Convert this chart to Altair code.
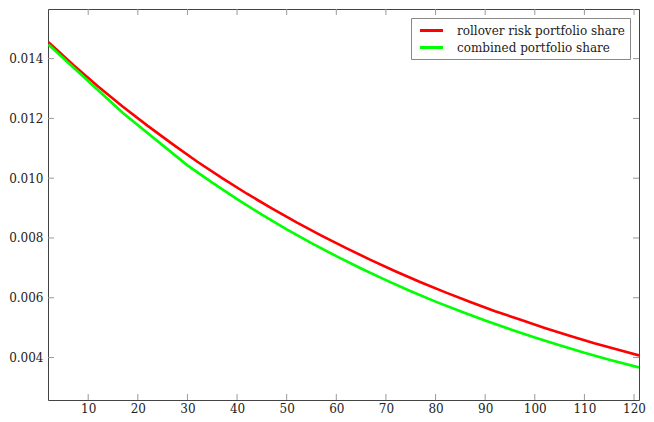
import altair as alt
import pandas as pd

# Series
red_label = "rollover risk portfolio share"
green_label = "combined portfolio share"

red_x = [2, 7, 12, 17, 22, 27, 32, 37, 42, 47, 52, 57, 62, 67, 72, 77, 82, 87, 92, 97, 102, 107, 112, 117, 121]
red_y = [0.01455, 0.01379, 0.01307, 0.01239, 0.01175, 0.01114, 0.01055, 0.01000, 0.00948, 0.00899,
         0.00852, 0.00808, 0.00766, 0.00726, 0.00688, 0.00652, 0.00618, 0.00586, 0.00555, 0.00527,
         0.00499, 0.00473, 0.00448, 0.00425, 0.00407]

green_x = [2, 17, 30, 35, 40, 45, 50, 55, 60, 65, 70, 75, 80, 85, 90, 95, 100, 105, 110, 115, 121]
green_y = [0.01447, 0.01218, 0.01043, 0.00985, 0.00930, 0.00878, 0.00829, 0.00783, 0.00739, 0.00698,
           0.00659, 0.00622, 0.00587, 0.00555, 0.00524, 0.00495, 0.00467, 0.00441, 0.00416, 0.00393,
           0.00367]

x_ticks = [10, 20, 30, 40, 50, 60, 70, 80, 90, 100, 110, 120]
y_ticks = [0.004, 0.006, 0.008, 0.010, 0.012, 0.014]

x_domain = [1.9, 121]
y_domain = [0.00258, 0.01566]

FONT = "DejaVu Serif"

df = pd.concat([
    pd.DataFrame({"x": red_x, "y": red_y, "series": red_label, "order": range(len(red_x))}),
    pd.DataFrame({"x": green_x, "y": green_y, "series": green_label, "order": range(len(green_x))}),
], ignore_index=True)

xscale = alt.Scale(domain=x_domain, nice=False, zero=False)
yscale = alt.Scale(domain=y_domain, nice=False, zero=False)

lines = alt.Chart(df).mark_line(strokeWidth=2.6, clip=True).encode(
    x=alt.X("x:Q", scale=xscale,
            axis=alt.Axis(values=x_ticks, title=None, ticks=False, domain=False, grid=False,
                          labelPadding=3, labelFlush=False)),
    y=alt.Y("y:Q", scale=yscale,
            axis=alt.Axis(values=y_ticks, title=None, ticks=False, domain=False, grid=False,
                          format=".3f", labelPadding=5)),
    color=alt.Color("series:N",
                    scale=alt.Scale(domain=[red_label, green_label], range=["#ff0000", "#00ff00"]),
                    legend=alt.Legend(orient="top-right", offset=9, title=None,
                                      symbolType="M-2,0H2", symbolStrokeWidth=3, symbolSize=132,
                                      symbolOffset=8,
                                      labelFont=FONT, labelFontSize=12, labelColor="#222",
                                      labelLimit=400,
                                      strokeColor="#888", fillColor="white", padding=5,
                                      rowPadding=3, labelOffset=18)),
    order="order:Q",
)

xt = pd.DataFrame({"x": x_ticks})
yt = pd.DataFrame({"y": y_ticks})
tick_color = "#999"

left_ticks = alt.Chart(yt).mark_rule(color=tick_color).encode(
    y=alt.Y("y:Q", scale=yscale), x=alt.value(0), x2=alt.value(6))
top_ticks = alt.Chart(xt).mark_rule(color=tick_color).encode(
    x=alt.X("x:Q", scale=xscale), y=alt.value(0), y2=alt.value(6))
right_ticks = alt.Chart(yt).mark_rule(color=tick_color).encode(
    y=alt.Y("y:Q", scale=yscale),
    x=alt.value({"expr": "width - 6"}), x2=alt.value({"expr": "width"}))
bottom_ticks = alt.Chart(xt).mark_rule(color=tick_color).encode(
    x=alt.X("x:Q", scale=xscale),
    y=alt.value({"expr": "height - 6"}), y2=alt.value({"expr": "height"}))

chart = alt.layer(left_ticks, right_ticks, top_ticks, bottom_ticks, lines).properties(
    width=638, height=406, background="white", padding=0,
    autosize=alt.AutoSizeParams(type="fit", contains="padding"),
).configure(
    font=FONT
).configure_view(
    stroke="#444", strokeWidth=1
).configure_axis(
    labelFont=FONT, labelFontSize=12, labelColor="#222"
)

chart.save("out.html", embed_options={"renderer": "svg", "actions": False})
